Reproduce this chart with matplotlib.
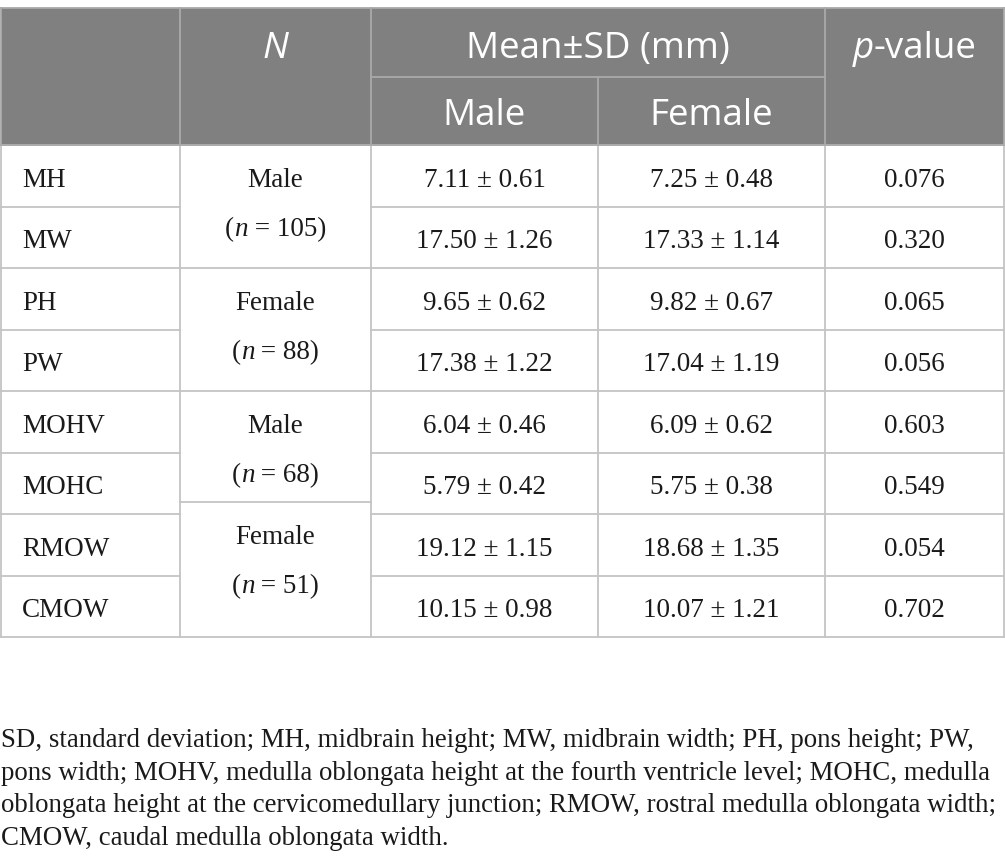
import matplotlib
matplotlib.use("Agg")
import matplotlib.pyplot as plt
from matplotlib.font_manager import FontProperties
from matplotlib.patches import Rectangle

# ---------------- data ----------------
measures = ["MH", "MW", "PH", "PW", "MOHV", "MOHC", "RMOW", "CMOW"]
male_mean = ["7.11", "17.50", "9.65", "17.38", "6.04", "5.79", "19.12", "10.15"]
male_sd = ["0.61", "1.26", "0.62", "1.22", "0.46", "0.42", "1.15", "0.98"]
female_mean = ["7.25", "17.33", "9.82", "17.04", "6.09", "5.75", "18.68", "10.07"]
female_sd = ["0.48", "1.14", "0.67", "1.19", "0.62", "0.38", "1.35", "1.21"]
p_values = ["0.076", "0.320", "0.065", "0.056", "0.603", "0.549", "0.054", "0.702"]
group_labels = ["Male", "Female", "Male", "Female"]
group_n = ["105", "88", "68", "51"]
header_mean = "Mean\u00b1SD (mm)"
header_sub = ["Male", "Female"]
footnote_lines = [
    "SD, standard deviation; MH, midbrain height; MW, midbrain width; PH, pons height; PW,",
    "pons width; MOHV, medulla oblongata height at the fourth ventricle level; MOHC, medulla",
    "oblongata height at the cervicomedullary junction; RMOW, rostral medulla oblongata width;",
    "CMOW, caudal medulla oblongata width.",
]

# ---------------- layout ----------------
W, H = 1005, 856
fig = plt.figure(figsize=(W / 100, H / 100), dpi=100)
ax = fig.add_axes([0, 0, 1, 1])
ax.set_xlim(0, W)
ax.set_ylim(H, 0)
ax.axis("off")

col_x = [1, 180, 371, 598, 825, 1004]
top = 8
mid = 77
hdr_bot = 145
row_h = (637 - hdr_bot) / 8
row_y = [hdr_bot + i * row_h for i in range(9)]
# merged "N" cells (third divider sits a little above the row line)
group_edges = [row_y[0], row_y[2], row_y[4], row_y[6] - 12, row_y[8]]

HDR_BG = "#808080"
HDR_LINE = "#a9a9a9"
BODY_LINE = "#c4c4c4"
TXT = "#1a1a1a"

sans = FontProperties(family="Open Sans", size=26.5)
sans_it = FontProperties(family="Open Sans", style="italic", size=26.5)
serif = FontProperties(family="Liberation Serif", size=19.5)
serif_it = FontProperties(family="Liberation Serif", style="italic", size=19.5)

renderer = fig.canvas.get_renderer()


def runs_text(x, y, runs, color, ha="center"):
    """Draw a sequence of (text, fontprops) runs on one baseline."""
    widths = []
    for s, fp in runs:
        t = ax.text(0, 0, s, fontproperties=fp)
        widths.append(t.get_window_extent(renderer).width)
        t.remove()
    total = sum(widths)
    cx = x - total / 2 if ha == "center" else x
    for (s, fp), w in zip(runs, widths):
        ax.text(cx, y, s, fontproperties=fp, color=color, ha="left", va="baseline")
        cx += w


# header background
ax.add_patch(Rectangle((col_x[0], top), col_x[-1] - col_x[0], hdr_bot - top,
                       facecolor=HDR_BG, edgecolor="none", zorder=0))

# header lines
lw = 1.3
ax.plot([col_x[0], col_x[-1]], [top, top], color=HDR_LINE, lw=lw)
ax.plot([col_x[2], col_x[4]], [mid, mid], color=HDR_LINE, lw=lw)
for xv in [col_x[0], col_x[1], col_x[2], col_x[4], col_x[5]]:
    ax.plot([xv, xv], [top, hdr_bot], color=HDR_LINE, lw=lw)
ax.plot([col_x[3], col_x[3]], [mid, hdr_bot], color=HDR_LINE, lw=lw)

# header text
ax.text((col_x[1] + col_x[2]) / 2, 58, "N", fontproperties=sans_it, color="white",
        ha="center", va="baseline")
ax.text((col_x[2] + col_x[4]) / 2, 58, header_mean, fontproperties=sans, color="white",
        ha="center", va="baseline")
runs_text((col_x[4] + col_x[5]) / 2, 58, [("p", sans_it), ("-value", sans)], "white")
for i, s in enumerate(header_sub):
    ax.text((col_x[2 + i] + col_x[3 + i]) / 2, 125, s, fontproperties=sans,
            color="white", ha="center", va="baseline")

# body lines
for i in range(9):
    y = row_y[i]
    ax.plot([col_x[0], col_x[1]], [y, y], color=BODY_LINE, lw=lw)
    ax.plot([col_x[2], col_x[5]], [y, y], color=BODY_LINE, lw=lw)
for y in group_edges:
    ax.plot([col_x[1], col_x[2]], [y, y], color=BODY_LINE, lw=lw)
for xv in col_x:
    ax.plot([xv, xv], [hdr_bot, row_y[-1]], color=BODY_LINE, lw=lw)
# header bottom edge
ax.plot([col_x[0], col_x[-1]], [hdr_bot, hdr_bot], color=HDR_LINE, lw=lw)

# body text
for i in range(8):
    yb = (row_y[i] + row_y[i + 1]) / 2 + 11
    ax.text(col_x[0] + 21, yb, measures[i], fontproperties=serif, color=TXT,
            ha="left", va="baseline")
    ax.text((col_x[2] + col_x[3]) / 2, yb, f"{male_mean[i]} \u00b1 {male_sd[i]}",
            fontproperties=serif, color=TXT, ha="center", va="baseline")
    ax.text((col_x[3] + col_x[4]) / 2, yb, f"{female_mean[i]} \u00b1 {female_sd[i]}",
            fontproperties=serif, color=TXT, ha="center", va="baseline")
    ax.text((col_x[4] + col_x[5]) / 2, yb, p_values[i], fontproperties=serif,
            color=TXT, ha="center", va="baseline")

# merged group cells (text top-aligned in each merged cell)
xc = (col_x[1] + col_x[2]) / 2
for g in range(4):
    ct = group_edges[g]
    ax.text(xc, ct + 42, group_labels[g], fontproperties=serif, color=TXT,
            ha="center", va="baseline")
    runs_text(xc, ct + 91, [("(", serif), ("n", serif_it), (" = " + group_n[g] + ")", serif)], TXT)

# footnote: fit font size so the widest line fills the page width
fn_size = 19.0
probe = ax.text(0, 0, footnote_lines[2], family="Liberation Serif", size=fn_size)
wpx = probe.get_window_extent(renderer).width
probe.remove()
fn_size = fn_size * 1000 / wpx
fn_base = [747, 780, 812, 845]
for yb, line in zip(fn_base, footnote_lines):
    ax.text(1, yb, line, family="Liberation Serif", size=fn_size, color=TXT,
            ha="left", va="baseline")

fig.savefig("out.png", dpi=100)
